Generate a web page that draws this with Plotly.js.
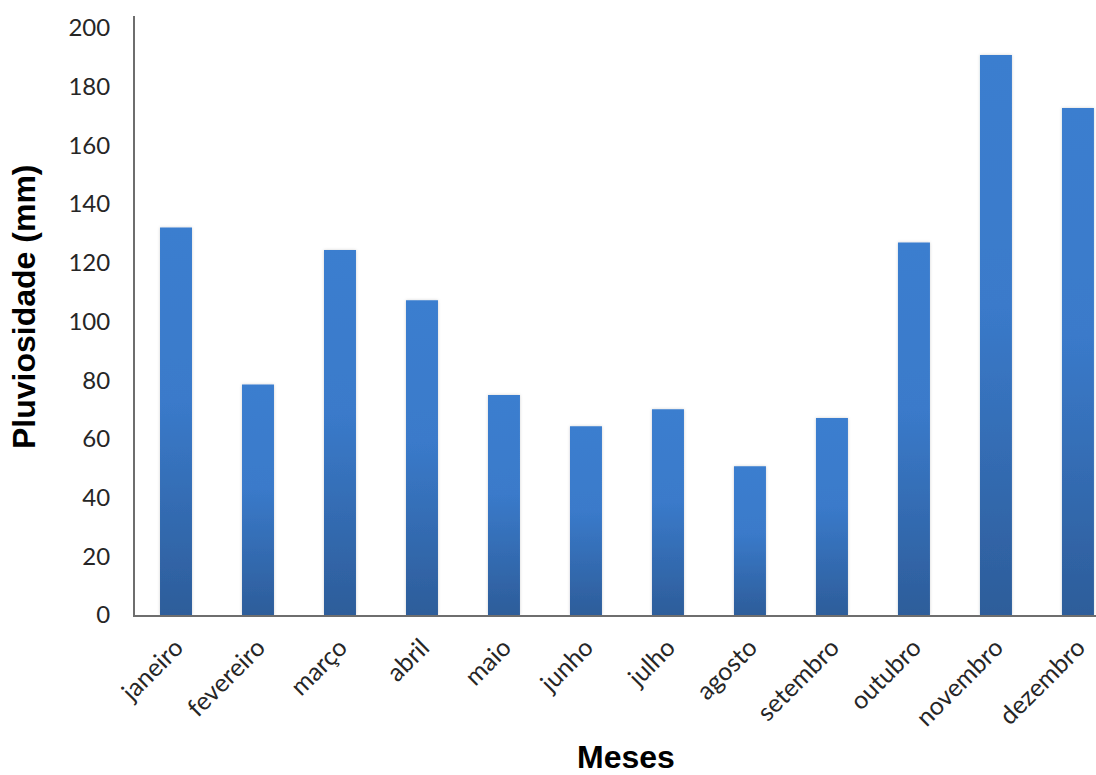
<!DOCTYPE html>
<html>
<head>
<meta charset="utf-8">
<script src="https://cdn.plot.ly/plotly-3.0.1.min.js"></script>
<style>
  html, body { margin: 0; padding: 0; background: #ffffff; }
  #chart { width: 1096px; height: 775px; }
</style>
</head>
<body>
<div id="chart"></div>
<script>
// Pluviosidade mensal (mm)
const meses = ["janeiro", "fevereiro", "março", "abril", "maio", "junho",
               "julho", "agosto", "setembro", "outubro", "novembro", "dezembro"];
const pluviosidade = [132, 78.5, 124.3, 107.2, 74.9, 64.3, 70.1, 50.7, 67.1, 126.9, 190.7, 172.7];
const yTicks = [0, 20, 40, 60, 80, 100, 120, 140, 160, 180, 200];

const labelFont = { family: "Lato, 'Open Sans', sans-serif", size: 25, color: "#262626" };
const titleFont = { family: "'Liberation Sans', Arial, sans-serif", size: 32, color: "#000000" };

const trace = {
  type: "bar",
  x: meses,
  y: pluviosidade,
  width: 0.39,
  marker: { color: "#3a7bca", line: { width: 0 } },
  hoverinfo: "x+y"
};

const layout = {
  width: 1096,
  height: 775,
  margin: { l: 135, r: 0, t: 16, b: 160, pad: 0 },
  paper_bgcolor: "#ffffff",
  plot_bgcolor: "#ffffff",
  showlegend: false,
  xaxis: {
    type: "category",
    range: [-0.5, 11.22],
    showline: true,
    linecolor: "#6e6e6e",
    linewidth: 2,
    showgrid: false,
    zeroline: false,
    ticks: "",
    tickangle: -45,
    ticklabelstandoff: 6,
    tickfont: labelFont,
    fixedrange: true
  },
  yaxis: {
    range: [0, 204],
    tickvals: yTicks,
    ticktext: yTicks.map(String),
    showline: true,
    linecolor: "#6e6e6e",
    linewidth: 2,
    showgrid: false,
    zeroline: false,
    ticks: "",
    ticklabelstandoff: 18,
    tickfont: { family: labelFont.family, size: 24, color: labelFont.color },
    fixedrange: true
  },
  annotations: [
    {
      text: "<b>Pluviosidade (mm)</b>",
      xref: "paper", yref: "paper",
      x: (24 - 135) / 961, y: (615 - 307) / 599,
      xanchor: "center", yanchor: "middle",
      textangle: -90,
      showarrow: false,
      font: titleFont
    },
    {
      text: "<b>Meses</b>",
      xref: "paper", yref: "paper",
      x: (626 - 135) / 961, y: (615 - 737) / 599,
      xanchor: "center", yanchor: "top",
      showarrow: false,
      font: titleFont
    }
  ]
};

Plotly.newPlot("chart", [trace], layout, { displayModeBar: false, staticPlot: true }).then(function (gd) {
  // Vertical shading on each bar: lighter blue at the top, deeper blue at the base
  const svgNS = "http://www.w3.org/2000/svg";
  const svg = gd.querySelector("svg.main-svg");
  let defs = svg.querySelector("defs");
  if (!defs) { defs = document.createElementNS(svgNS, "defs"); svg.insertBefore(defs, svg.firstChild); }

  const grad = document.createElementNS(svgNS, "linearGradient");
  grad.setAttribute("id", "barShade");
  grad.setAttribute("x1", "0"); grad.setAttribute("y1", "0");
  grad.setAttribute("x2", "0"); grad.setAttribute("y2", "1");
  [["0", "#3b7ecf"], ["0.45", "#3a7aca"], ["1", "#2d5d9a"]].forEach(function (s) {
    const stop = document.createElementNS(svgNS, "stop");
    stop.setAttribute("offset", s[0]);
    stop.setAttribute("stop-color", s[1]);
    grad.appendChild(stop);
  });
  defs.appendChild(grad);

  const shadow = document.createElementNS(svgNS, "filter");
  shadow.setAttribute("id", "barSoft");
  shadow.setAttribute("x", "-20%"); shadow.setAttribute("y", "-5%");
  shadow.setAttribute("width", "140%"); shadow.setAttribute("height", "110%");
  const drop = document.createElementNS(svgNS, "feDropShadow");
  drop.setAttribute("dx", "0"); drop.setAttribute("dy", "0");
  drop.setAttribute("stdDeviation", "1.5");
  drop.setAttribute("flood-color", "#000000");
  drop.setAttribute("flood-opacity", "0.18");
  shadow.appendChild(drop);
  defs.appendChild(shadow);

  gd.querySelectorAll(".barlayer .point path").forEach(function (p) {
    p.style.fill = "url(#barShade)";
    p.setAttribute("filter", "url(#barSoft)");
  });
});
</script>
</body>
</html>
